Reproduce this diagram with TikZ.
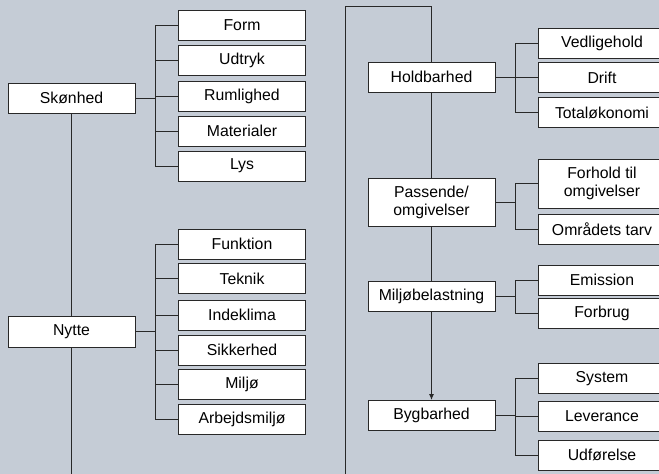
\documentclass[tikz,border=0pt]{standalone}
\usepackage{fontspec}
\setmainfont{Liberation Sans}
\usetikzlibrary{arrows.meta}
\definecolor{bgblue}{RGB}{197,204,214}
\definecolor{edge}{RGB}{40,40,40}
\tikzset{
  box/.style={draw=edge, line width=0.9pt, fill=white, minimum width=127pt, minimum height=30pt,
    inner sep=0pt, align=center, font=\fontsize{15.8}{18}\selectfont},
  link/.style={draw=edge, line width=1pt}
}
\begin{document}
\begin{tikzpicture}[x=1pt, y=-1pt]
    \fill[bgblue] (0,0) rectangle (659,474);
    \useasboundingbox (0,0) rectangle (659,474);
    % left column
    \node[box] (skon) at (71.5,98){Skønhed};
    \node[box] (form) at (242,25.5){Form};
    \node[box] (udtryk) at (242,60){Udtryk};
    \node[box] (rum) at (242,96){Rumlighed};
    \node[box] (mat) at (242,131){Materialer};
    \node[box] (lys) at (242,166){Lys};
    \node[box, minimum height=31pt] (nytte) at (71.5,331.5){Nytte};
    \node[box] (funk) at (242,244){Funktion};
    \node[box] (tekn) at (242,278.5){Teknik};
    \node[box] (inde) at (242,315){Indeklima};
    \node[box] (sikk) at (242,350){Sikkerhed};
    \node[box] (milj) at (242,384){Miljø};
    \node[box] (arbm) at (242,419){Arbejdsmiljø};
    \coordinate (botL) at (71.5,474);
    % right column
    \node[box] (hold) at (431.5,77){Holdbarhed};
    \node[box] (vedl) at (602,43){Vedligehold};
    \node[box] (drift) at (602,77.5){Drift};
    \node[box] (total) at (602,112.5){Totaløkonomi};
    \node[box, minimum height=48pt] (pass) at (431.5,202){Passende/\\omgivelser};
    \node[box, minimum height=49pt] (forh) at (602,183.5){Forhold til\\omgivelser};
    \node[box] (omr) at (602,229){Områdets tarv};
    \node[box] (mbel) at (431.5,296){Miljøbelastning};
    \node[box] (emis) at (602,280){Emission};
    \node[box] (forb) at (602,313.5){Forbrug};
    \node[box] (byg) at (431.5,415.5){Bygbarhed};
    \node[box] (syst) at (602,378.5){System};
    \node[box] (leve) at (602,416){Leverance};
    \node[box] (udfo) at (602,455){Udførelse};
    \coordinate (botR) at (345,474);
    \coordinate (topR) at (345,6);
    % connectors
    \foreach \c in {form,udtryk,rum,mat,lys}
        \draw[link] (skon.east) -- ++(20,0) |- (\c.west);
    \foreach \c in {funk,tekn,inde,sikk,milj,arbm}
        \draw[link] (nytte.east) -- ++(20,0) |- (\c.west);
    \foreach \c in {vedl,drift,total}
        \draw[link] (hold.east) -- ++(20,0) |- (\c.west);
    \foreach \c in {forh,omr}
        \draw[link] (pass.east) -- ++(20,0) |- (\c.west);
    \foreach \c in {emis,forb}
        \draw[link] (mbel.east) -- ++(20,0) |- (\c.west);
    \foreach \c in {syst,leve,udfo}
        \draw[link] (byg.east) -- ++(20,0) |- (\c.west);
    \draw[link] (skon.south) -- (nytte.north);
    \draw[link] (nytte.south) -- (botL);
    \draw[link] (botR) -- (topR) -| (hold.north);
    \draw[link] (hold.south) -- (pass.north);
    \draw[link] (pass.south) -- (mbel.north);
    \draw[link, -{Latex[length=6pt,width=5pt]}] (mbel.south) -- (byg.north);
\end{tikzpicture}
\end{document}
